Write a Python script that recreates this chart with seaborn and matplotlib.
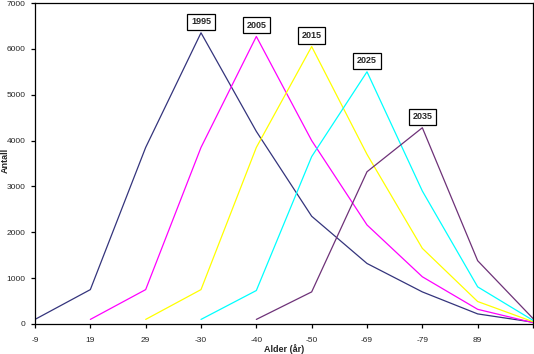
import matplotlib
matplotlib.use("Agg")
import matplotlib.pyplot as plt
import seaborn as sns
import pandas as pd
import numpy as np

categories = ["-9", "19", "29", "-30", "-40", "-50", "-69", "-79", "89", ""]
series_names = ["1995", "2005", "2015", "2025", "2035"]
y1995 = [100, 750, 3850, 6350, 4200, 2350, 1320, 700, 220, 40]
y2005 = [None, 100, 750, 3850, 6270, 4000, 2160, 1030, 320, 30]
y2015 = [None, None, 100, 750, 3850, 6050, 3700, 1650, 490, 50]
y2025 = [None, None, None, 100, 730, 3650, 5500, 2900, 810, 80]
y2035 = [None, None, None, None, 100, 700, 3320, 4280, 1380, 120]
yticks = [0, 1000, 2000, 3000, 4000, 5000, 6000, 7000]
colors = ["#34347C", "#FF00FF", "#FFFF00", "#00FFFF", "#6E3278"]

all_series = [y1995, y2005, y2015, y2025, y2035]
rows = []
for name, vals in zip(series_names, all_series):
    for i, v in enumerate(vals):
        if v is not None:
            rows.append({"pos": i, "value": v, "year": name})
df = pd.DataFrame(rows)

sns.set_style("white")
plt.rcParams["font.family"] = ["Liberation Sans", "DejaVu Sans"]

fig = plt.figure(figsize=(5.34, 3.54), dpi=100)
ax = fig.add_axes([35/534, 1 - 324/354, (533 - 35)/534, (324 - 3)/354])

sns.lineplot(data=df, x="pos", y="value", hue="year",
             palette=dict(zip(series_names, colors)), linewidth=0.9,
             legend=False, ax=ax, sort=False)

ax.set_xlim(0, len(categories) - 1)
ax.set_ylim(0, 7000)
ax.set_xticks(range(len(categories)))
ax.set_xticklabels(categories, fontsize=6)
ax.set_yticks(yticks)
ax.set_yticklabels([str(t) for t in yticks], fontsize=6)
ax.tick_params(axis="both", direction="out", length=3, width=0.9, color="black")
ax.tick_params(axis="x", pad=6)
ax.tick_params(axis="y", pad=4)
ax.xaxis.set_ticks_position("bottom")
ax.yaxis.set_ticks_position("left")
for sp in ax.spines.values():
    sp.set_visible(True)
    sp.set_color("black")
    sp.set_linewidth(0.9)

ax.set_xlabel("Alder (år)", fontsize=6.5, fontweight="bold")
ax.set_ylabel("Antall", fontsize=6.5, fontweight="bold")
ax.xaxis.set_label_coords(0.5, (324 - 349) / 321)
ax.yaxis.set_label_coords((5 - 35) / 498, (324 - 160) / 321)
ax.xaxis.label.set_va("center")
ax.yaxis.label.set_va("center")

for name, vals in zip(series_names, all_series):
    arr = np.array([np.nan if v is None else v for v in vals], dtype=float)
    i = int(np.nanargmax(arr))
    ax.annotate(name, xy=(i, arr[i]), xytext=(0, 8), textcoords="offset points",
                ha="center", va="center", fontsize=6.5, fontweight="bold",
                bbox=dict(boxstyle="square,pad=0.4", fc="white", ec="black", lw=0.9),
                annotation_clip=False)

fig.savefig("out.png", dpi=100)
